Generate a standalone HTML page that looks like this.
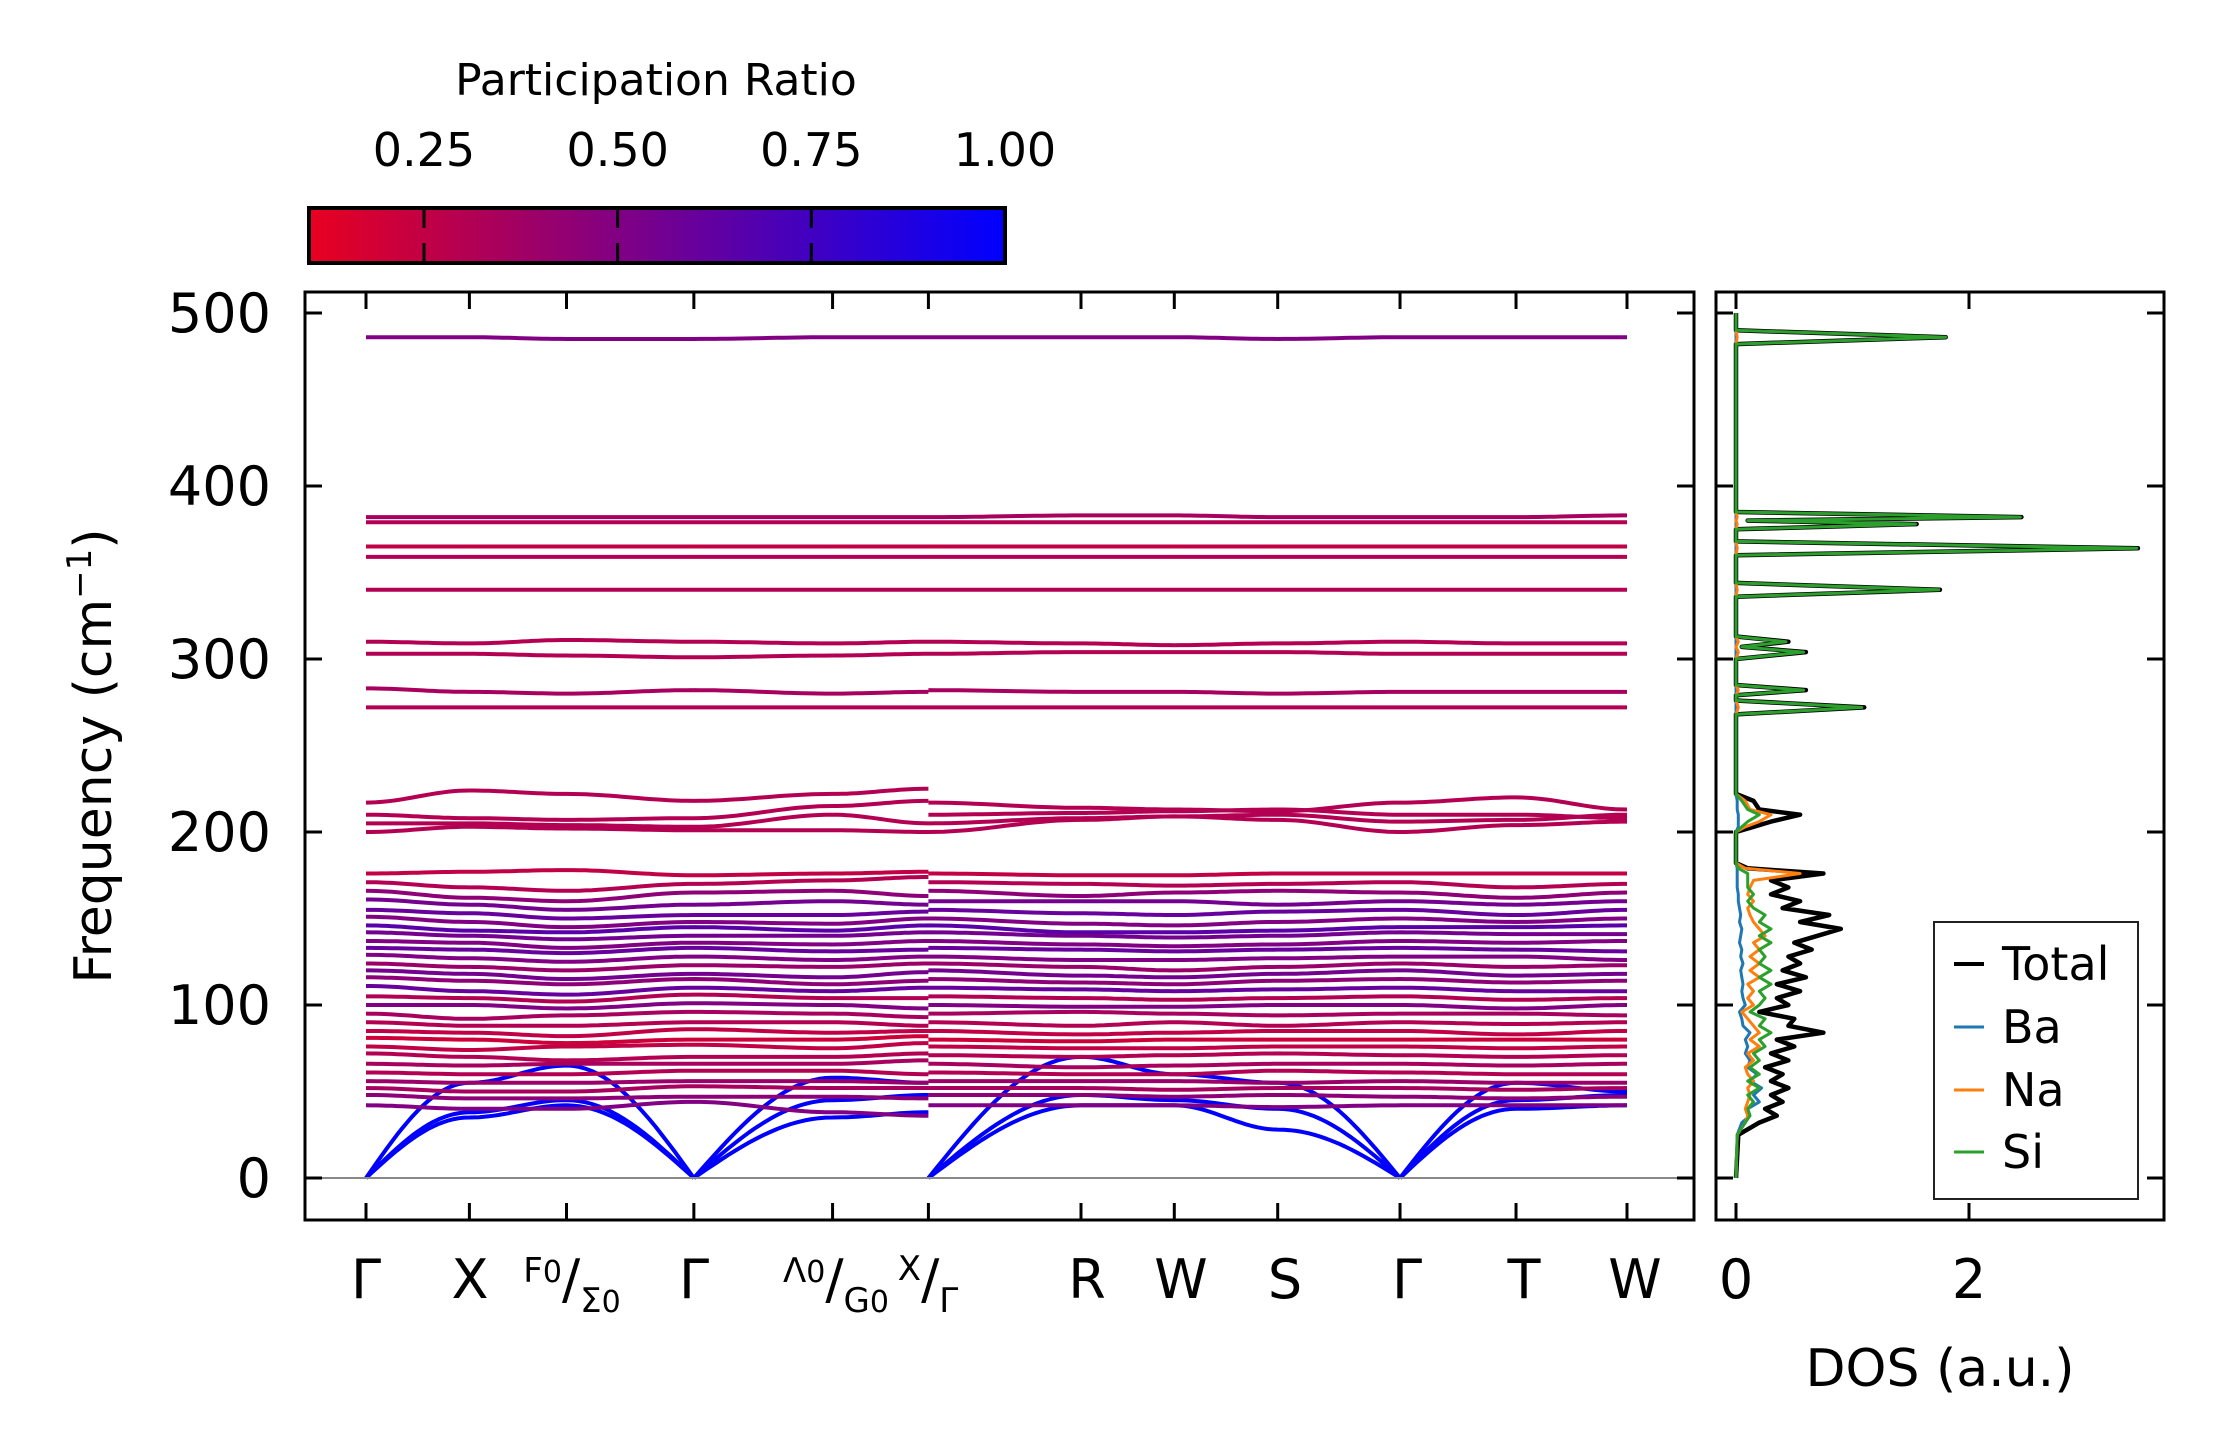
<!DOCTYPE html>
<html><head><meta charset="utf-8"><style>
html,body{margin:0;padding:0;background:#fff;}
svg{display:block;font-family:"DejaVu Sans","Liberation Sans",sans-serif;}
</style></head><body>
<svg id="chart" width="2222" height="1455" viewBox="0 0 2222 1455" xmlns="http://www.w3.org/2000/svg">
<defs>
<linearGradient id="cmap" x1="0" x2="1" y1="0" y2="0">
<stop offset="0" stop-color="rgb(232,0,32)"/>
<stop offset="1" stop-color="rgb(0,0,255)"/>
</linearGradient>
<clipPath id="mainclip"><rect x="305" y="292" width="1389" height="928"/></clipPath>
<clipPath id="dosclip"><rect x="1716" y="292" width="448" height="928"/></clipPath>
</defs>
<g id="colorbar">
<text x="656" y="95" font-size="44" text-anchor="middle">Participation Ratio</text>
<rect x="309" y="208" width="696" height="55" fill="url(#cmap)" stroke="#000" stroke-width="4"/>
</g>
<g id="bands" clip-path="url(#mainclip)"></g>
<g id="dos" clip-path="url(#dosclip)"></g>
<g id="axes"></g>
<g id="legend">
<rect x="1934" y="922" width="204" height="277" fill="#fff" stroke="#222" stroke-width="2"/>
<line x1="1954" x2="1984" y1="964" y2="964" stroke="#000" stroke-width="4"/>
<text x="2002" y="980" font-size="46">Total</text>
<line x1="1954" x2="1984" y1="1027" y2="1027" stroke="#1f77b4" stroke-width="3"/>
<text x="2002" y="1043" font-size="46">Ba</text>
<line x1="1954" x2="1984" y1="1090" y2="1090" stroke="#ff7f0e" stroke-width="3"/>
<text x="2002" y="1106" font-size="46">Na</text>
<line x1="1954" x2="1984" y1="1152" y2="1152" stroke="#2ca02c" stroke-width="3"/>
<text x="2002" y="1168" font-size="46">Si</text>
</g>
</svg>
<script>
var kNodes = [0, 0.082, 0.159, 0.260, 0.370, 0.446, 0.446, 0.567, 0.641, 0.723, 0.820, 0.912, 1.0];
var kTicks = [0, 0.082, 0.159, 0.260, 0.370, 0.446, 0.567, 0.641, 0.723, 0.820, 0.912, 1.0];
var yTicks = [0, 100, 200, 300, 400, 500];
var cbTicks = [0.25, 0.50, 0.75, 1.00];
var cbTickLabels = ["0.25", "0.50", "0.75", "1.00"];
var dosTicks = [0, 2];
var bandFreqs = [
[0,35,42,0,35,38, 0,42,42,28,0,40,42],
[0,38,45,0,45,48, 0,48,45,40,0,45,48],
[0,55,65,0,58,55, 0,70,60,55,0,55,50],
[486,486,485,485,486,486, 486,486,486,485,486,486,486],
[382,382,382,382,382,382, 382,383,383,382,382,382,383],
[379,379,379,379,379,379, 379,379,379,379,379,379,379],
[365,365,365,365,365,365, 365,365,365,365,365,365,365],
[359,359,359,359,359,359, 359,359,359,359,359,359,359],
[340,340,340,340,340,340, 340,340,340,340,340,340,340],
[310,309,311,310,309,310, 310,309,308,309,310,309,309],
[303,303,302,301,302,303, 303,304,304,304,303,303,303],
[283,281,280,282,280,281, 282,281,281,280,281,281,281],
[272,272,272,272,272,272, 272,272,272,272,272,272,272],
[217,224,222,218,222,225, 217,214,213,212,217,220,213],
[210,208,207,208,215,218, 210,211,212,213,210,210,208],
[205,205,204,203,210,205, 205,208,209,210,206,207,210],
[200,203,202,201,201,200, 200,207,209,207,200,204,206],
[176,177,178,175,176,177, 176,175,175,176,176,176,176],
[171,168,166,170,172,174, 171,170,169,170,171,168,170],
[166,162,160,165,166,163, 166,163,165,166,165,162,165],
[161,158,155,158,160,158, 160,160,160,158,160,158,160],
[155,153,150,152,152,154, 155,153,152,154,155,152,155],
[151,148,145,148,147,150, 150,147,146,148,150,148,150],
[146,143,142,145,143,146, 146,142,142,143,145,145,146],
[142,140,138,140,140,142, 142,140,139,140,142,141,141],
[137,136,133,136,135,137, 137,135,134,135,137,136,137],
[133,132,130,133,131,132, 133,132,131,132,133,132,131],
[129,127,125,128,126,128, 128,126,126,127,128,128,126],
[124,122,120,123,122,124, 124,122,120,122,124,122,123],
[120,118,115,118,116,119, 120,117,116,118,120,117,118],
[116,114,112,115,112,114, 115,113,112,114,115,113,114],
[111,108,106,110,108,110, 110,109,108,109,110,108,108],
[105,104,102,106,104,104, 105,104,103,104,105,103,104],
[100,100,98,101,100,98, 100,99,99,100,100,98,100],
[95,92,94,96,95,93, 95,96,95,94,95,95,94],
[90,88,88,90,90,88, 90,88,90,88,90,89,90],
[85,84,82,86,84,85, 85,83,84,85,85,83,85],
[81,80,78,80,80,82, 80,79,80,80,80,80,80],
[76,74,76,77,75,78, 76,75,75,76,76,75,76],
[72,70,68,70,70,72, 71,70,71,72,71,70,71],
[66,65,66,66,66,68, 66,64,65,66,66,65,66],
[61,60,60,62,62,60, 61,60,60,62,61,60,60],
[56,55,55,56,56,55, 56,56,56,55,56,55,55],
[52,50,50,53,52,52, 52,52,51,52,52,51,52],
[48,46,46,47,47,46, 48,48,47,48,47,46,47],
[42,40,40,44,38,36, 42,42,42,41,42,42,42]
];
var bandPR = [1,1,1, 0.5,0.35,0.3,0.25,0.3,0.3,0.3,0.3,0.35,0.3, 0.3,0.3,0.3,0.3,
0.25,0.3,0.45,0.55,0.6,0.5,0.65,0.55,0.5,0.6,0.5,0.4,0.55,0.45,0.6,0.3,0.5,0.35,0.3,0.25,0.2,0.25,0.3,0.35,0.3,0.4,0.35,0.45,0.5];
var dosFreq = [0,25,32,36,40,44,48,52,56,60,64,68,72,76,80,84,88,92,96,100,104,108,112,116,120,124,128,132,136,140,144,148,152,156,160,164,168,172,176,179,182,200,203,206,210,213,218,222,268,272,276,279,282,285,300,304,307,310,313,336,340,344,360,364,368,375,378,380,382,385,482,486,490,500];
var dosTotal = [0,0.02,0.2,0.35,0.25,0.4,0.3,0.45,0.3,0.4,0.25,0.45,0.3,0.5,0.35,0.75,0.45,0.5,0.2,0.45,0.35,0.55,0.35,0.6,0.4,0.55,0.45,0.65,0.5,0.7,0.9,0.55,0.8,0.4,0.55,0.3,0.45,0.3,0.75,0.1,0,0,0.15,0.3,0.55,0.2,0.15,0,0,1.1,0,0,0.6,0,0,0.6,0.05,0.45,0,0,1.75,0,0,3.45,0,0,1.55,0.1,2.45,0,0,1.8,0,0];
var dosBa = [0,0.01,0.05,0.12,0.1,0.2,0.15,0.22,0.12,0.18,0.1,0.12,0.08,0.1,0.08,0.12,0.06,0.05,0.03,0.08,0.06,0.05,0.06,0.05,0.04,0.06,0.04,0.05,0.03,0.04,0.05,0.03,0.04,0.03,0.02,0.02,0.01,0.01,0.01,0.01,0,0,0.02,0.02,0.02,0.01,0.01,0,0,0,0,0,0,0,0,0,0,0,0,0,0,0,0,0,0,0,0,0,0,0,0,0,0,0];
var dosNa = [0,0.01,0.08,0.1,0.08,0.1,0.12,0.1,0.15,0.1,0.08,0.15,0.1,0.2,0.12,0.2,0.15,0.1,0.05,0.15,0.1,0.15,0.1,0.2,0.12,0.2,0.12,0.2,0.15,0.25,0.2,0.15,0.12,0.1,0.15,0.1,0.12,0.15,0.55,0.08,0,0,0.08,0.2,0.3,0.12,0.08,0,0,0.02,0,0,0.02,0,0,0.02,0,0.02,0,0,0.01,0,0,0.01,0,0,0.01,0,0.01,0,0,0.01,0,0];
var dosSi = [0,0.01,0.08,0.12,0.1,0.15,0.1,0.2,0.1,0.2,0.12,0.2,0.15,0.25,0.2,0.3,0.2,0.25,0.12,0.2,0.25,0.2,0.3,0.2,0.3,0.2,0.25,0.2,0.3,0.2,0.3,0.2,0.25,0.15,0.1,0.15,0.1,0.1,0.1,0.02,0,0,0.05,0.1,0.2,0.1,0.05,0,0,1.08,0,0,0.58,0,0,0.58,0.05,0.43,0,0,1.74,0,0,3.44,0,0,1.54,0.1,2.44,0,0,1.8,0,0];

var NS = "http://www.w3.org/2000/svg";
var MX0 = 305, MX1 = 1694, AY0 = 292, AY1 = 1220;
var DX0 = 1716, DX1 = 2164;
function xk(k){ return 366 + k * (1627 - 366); }
function yf(f){ return 1178 - f * (1178 - 313) / 500; }
function xd(d){ return 1736 + d * (1969 - 1736) / 2; }
function xc(v){ return 424 + (v - 0.25) * (1005 - 424) / 0.75; }
function prColor(p){ var t = Math.max(0, Math.min(1, (p - 0.1) / 0.9)); return "rgb(" + Math.round(232 * (1 - t)) + ",0," + Math.round(32 + 223 * t) + ")"; }
function mk(tag, attrs, parent){ var e = document.createElementNS(NS, tag); for (var a in attrs) e.setAttribute(a, attrs[a]); parent.appendChild(e); return e; }

var gb = document.getElementById("bands");
for (var b = 0; b < bandFreqs.length; b++) {
  var fr = bandFreqs[b], d = "";
  for (var s = 0; s < kNodes.length - 1; s++) {
    if (kNodes[s + 1] - kNodes[s] < 1e-6) continue;
    var a = fr[s], c = fr[s + 1];
    for (var i = 0; i <= 20; i++) {
      var t = i / 20, f;
      if (a === 0 && c !== 0) f = c * Math.sin(Math.PI * t / 2);
      else if (c === 0 && a !== 0) f = a * Math.sin(Math.PI * (1 - t) / 2);
      else f = a + (c - a) * (1 - Math.cos(Math.PI * t)) / 2;
      var k = kNodes[s] + t * (kNodes[s + 1] - kNodes[s]);
      d += (i === 0 ? "M" : "L") + xk(k).toFixed(1) + "," + yf(f).toFixed(1);
    }
  }
  var p = mk("path", {d: d, fill: "none", stroke: prColor(bandPR[b]), "stroke-width": 4, "stroke-linejoin": "round"}, gb);
  
  
}

var gd = document.getElementById("dos");
var dosSeries = [[dosTotal, "#000", 4.5], [dosBa, "#1f77b4", 3], [dosNa, "#ff7f0e", 3], [dosSi, "#2ca02c", 3]];
var dosNames = ["dos-total", "dos-ba", "dos-na", "dos-si"];
for (var q = 0; q < dosSeries.length; q++) {
  var vals = dosSeries[q][0], pts = [];
  for (var j = 0; j < dosFreq.length; j++) pts.push(xd(vals[j]).toFixed(1) + "," + yf(dosFreq[j]).toFixed(1));
  var pl = mk("polyline", {points: pts.join(" "), fill: "none", stroke: dosSeries[q][1], "stroke-width": dosSeries[q][2], "stroke-linejoin": "round"}, gd);
  
  
}

var ga = document.getElementById("axes");
var zl = mk("line", {x1: MX0, x2: MX1, y1: yf(0), y2: yf(0), stroke: "#888", "stroke-width": 2}, ga);


var fr1 = mk("rect", {x: MX0, y: AY0, width: MX1 - MX0, height: AY1 - AY0, fill: "none", stroke: "#000", "stroke-width": 3}, ga);


var fr2 = mk("rect", {x: DX0, y: AY0, width: DX1 - DX0, height: AY1 - AY0, fill: "none", stroke: "#000", "stroke-width": 3}, ga);


var TL = 17;
for (var yi = 0; yi < yTicks.length; yi++) {
  var yy = yf(yTicks[yi]);
  mk("line", {x1: MX0, x2: MX0 + TL, y1: yy, y2: yy, stroke: "#000", "stroke-width": 3}, ga);
  mk("line", {x1: MX1, x2: MX1 - TL, y1: yy, y2: yy, stroke: "#000", "stroke-width": 3}, ga);
  mk("line", {x1: DX0, x2: DX0 + TL, y1: yy, y2: yy, stroke: "#000", "stroke-width": 3}, ga);
  mk("line", {x1: DX1, x2: DX1 - TL, y1: yy, y2: yy, stroke: "#000", "stroke-width": 3}, ga);
  var tl = mk("text", {x: 271, y: yy + 19, "font-size": 54, "text-anchor": "end"}, ga);
  tl.textContent = String(yTicks[yi]);
  
  
}
for (var ki = 0; ki < kTicks.length; ki++) {
  var xx = xk(kTicks[ki]);
  mk("line", {x1: xx, x2: xx, y1: AY0, y2: AY0 + TL, stroke: "#000", "stroke-width": 3}, ga);
  mk("line", {x1: xx, x2: xx, y1: AY1, y2: AY1 - TL, stroke: "#000", "stroke-width": 3}, ga);
}
for (var di = 0; di < dosTicks.length; di++) {
  var dx = xd(dosTicks[di]);
  mk("line", {x1: dx, x2: dx, y1: AY0, y2: AY0 + TL, stroke: "#000", "stroke-width": 3}, ga);
  mk("line", {x1: dx, x2: dx, y1: AY1, y2: AY1 - TL, stroke: "#000", "stroke-width": 3}, ga);
  var dl = mk("text", {x: dx, y: 1298, "font-size": 54, "text-anchor": "middle"}, ga);
  dl.textContent = String(dosTicks[di]);
  
  
}
var gc = document.getElementById("colorbar");
for (var ci = 0; ci < cbTicks.length; ci++) {
  var cx = xc(cbTicks[ci]);
  if (cbTicks[ci] < 1) {
    mk("line", {x1: cx, x2: cx, y1: 208, y2: 228, stroke: "#000", "stroke-width": 3}, gc);
    mk("line", {x1: cx, x2: cx, y1: 243, y2: 263, stroke: "#000", "stroke-width": 3}, gc);
  }
  var cl = mk("text", {x: cx, y: 166, "font-size": 46, "text-anchor": "middle"}, gc);
  cl.textContent = cbTickLabels[ci];
  
  
}

var svg = document.getElementById("chart");
function lbl(x, parts, name){
  var t = document.createElementNS(NS, "text");
  t.setAttribute("x", x); t.setAttribute("y", 1298); t.setAttribute("font-size", 54); t.setAttribute("text-anchor", "middle");
  
  
  for (var i = 0; i < parts.length; i++) {
    var s = document.createElementNS(NS, "tspan");
    s.setAttribute("font-size", parts[i][1]);
    s.setAttribute("dy", parts[i][2]);
    s.textContent = parts[i][0];
    t.appendChild(s);
  }
  svg.appendChild(t);
}
lbl(366, [["Γ",54,0]], "k-label-gamma");
lbl(470, [["X",54,0]], "k-label-x");
lbl(572, [["F",34,-16],["0",30,0],["/",54,16],["Σ",34,14],["0",30,0]], "k-label-f0-sigma0");
lbl(694, [["Γ",54,0]], "k-label-gamma");
lbl(836, [["Λ",34,-16],["0",30,0],["/",54,16],["G",34,14],["0",30,0]], "k-label-lambda0-g0");
lbl(928, [["X",34,-18],["/",54,18],["Γ",34,14]], "k-label-x-gamma");
lbl(1087, [["R",54,0]], "k-label-r");
lbl(1181, [["W",54,0]], "k-label-w");
lbl(1285, [["S",54,0]], "k-label-s");
lbl(1407, [["Γ",54,0]], "k-label-gamma");
lbl(1524, [["T",54,0]], "k-label-t");
lbl(1635, [["W",54,0]], "k-label-w");
var yt = document.createElementNS(NS, "text");
yt.setAttribute("x", 0); yt.setAttribute("y", 0); yt.setAttribute("font-size", 52); yt.setAttribute("text-anchor", "middle");
yt.setAttribute("transform", "translate(111,756) rotate(-90)");


yt.innerHTML = 'Frequency (cm<tspan font-size="34" dy="-20">−1</tspan><tspan dy="20">)</tspan>';
svg.appendChild(yt);
var xt = document.createElementNS(NS, "text");
xt.setAttribute("x", 1940); xt.setAttribute("y", 1386); xt.setAttribute("font-size", 52); xt.setAttribute("text-anchor", "middle");


xt.textContent = "DOS (a.u.)";
svg.appendChild(xt);
</script>
</body></html>
